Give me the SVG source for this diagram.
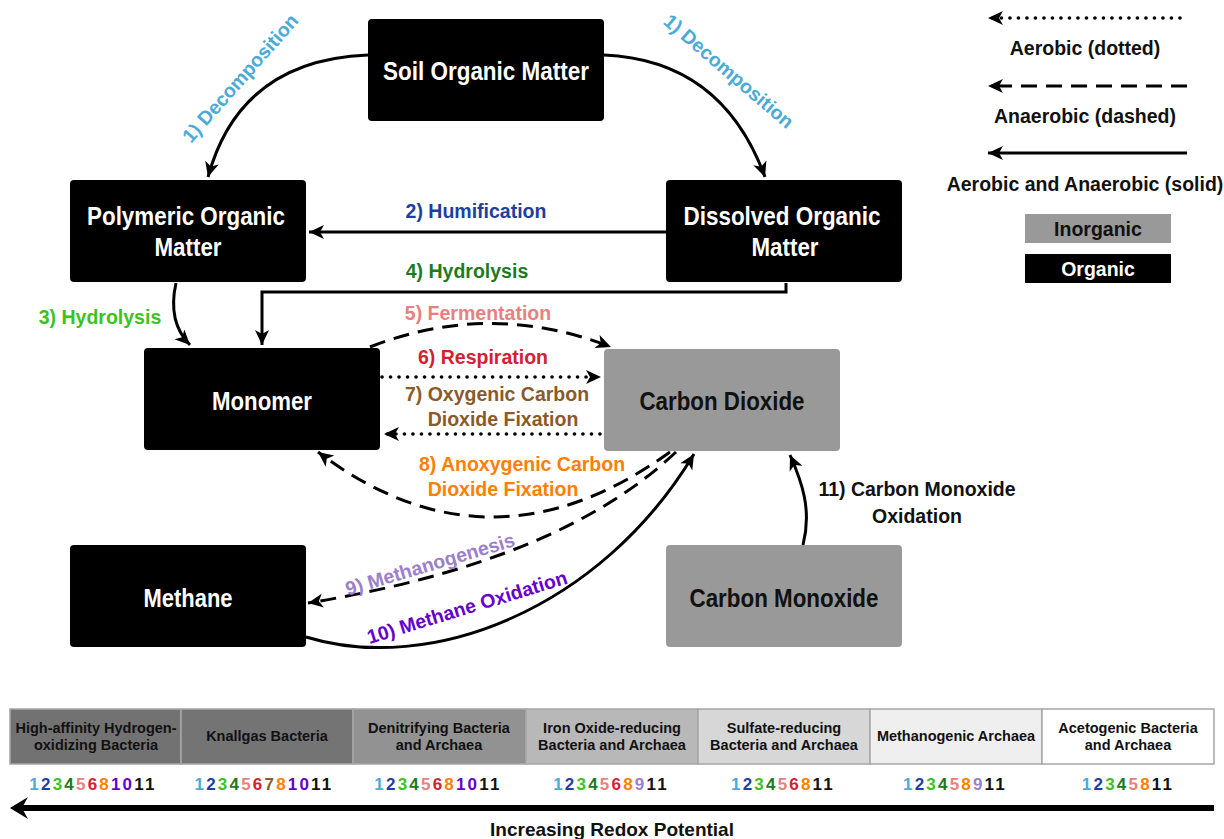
<svg xmlns="http://www.w3.org/2000/svg" width="1224" height="839" viewBox="0 0 1224 839">
<style>
.node{stroke:none}
.org{fill:#000}
.inorg{fill:#999}
.nl{font-family:"Liberation Sans",Arial,sans-serif;font-weight:bold;font-size:26px;text-anchor:middle;dominant-baseline:central}
.w{fill:#fff}
.k{fill:#111}
.lbl{font-family:"Liberation Sans",Arial,sans-serif;font-weight:bold;font-size:19.5px;text-anchor:middle;dominant-baseline:central}
.leg{font-family:"Liberation Sans",Arial,sans-serif;font-weight:bold;font-size:19.5px;text-anchor:middle;dominant-baseline:central;fill:#111}
.cell{font-family:"Liberation Sans",Arial,sans-serif;font-weight:bold;font-size:14.5px;text-anchor:middle;dominant-baseline:central;fill:#111}
.num{font-family:"Liberation Sans",Arial,sans-serif;font-weight:bold;font-size:17px;text-anchor:middle;dominant-baseline:central;letter-spacing:2.2px}
.c1{fill:#4aabd6}.c2{fill:#1f3e9e}.c3{fill:#3cc21e}.c4{fill:#1e7a1e}.c5{fill:#e88080}.c6{fill:#d42030}.c7{fill:#8b5a2b}.c8{fill:#ff8000}.c9{fill:#9b7fcc}.c10{fill:#6600cc}.c11{fill:#111}
.e{fill:none;stroke:#000;stroke-width:3}
.dash{stroke-dasharray:16 9}
.dot{stroke-dasharray:0.1 8.4;stroke-linecap:round;stroke-width:3.6}
.tb{stroke:#a6a6a6;stroke-width:1.5}
</style>
<defs>
<marker id="ah" markerUnits="userSpaceOnUse" markerWidth="16" markerHeight="14" refX="15" refY="7" orient="auto" overflow="visible">
<path d="M0,0 L15,7 L0,14 L4,7 z" fill="#000"/>
</marker>
</defs>

<g id="connectors">
<path class="e" d="M368,55 Q240,60 208,177" marker-end="url(#ah)"/>
<path class="e" d="M604,55 Q722,60 765,177" marker-end="url(#ah)"/>
<path class="e" d="M666,232 L309,232" marker-end="url(#ah)"/>
<path class="e" d="M176,283 C170,310 175,330 190,345" marker-end="url(#ah)"/>
<path class="e" d="M786,283 L786,292 L262,292 L262,345" marker-end="url(#ah)"/>
<path class="e dash" d="M370,347 Q490,300 611,347" marker-end="url(#ah)"/>
<path class="e dot" d="M382,377 L601,377" marker-end="url(#ah)"/>
<path class="e dot" d="M600,434 L384,434" marker-end="url(#ah)"/>
<path class="e dash" d="M670,452 Q490,582 318,452" marker-end="url(#ah)"/>
<path class="e dash" d="M676,452 Q560,562 308,603" marker-end="url(#ah)"/>
<path class="e" d="M306,637 C430,675 600,610 694,454" marker-end="url(#ah)"/>
<path class="e" d="M803,545 C812,510 802,482 790,455" marker-end="url(#ah)"/>

<text class="lbl c1" transform="translate(240,78) rotate(-48.5)">1) Decomposition</text>
<text class="lbl c1" transform="translate(729,71) rotate(40.5)">1) Decomposition</text>
<text class="lbl c2" x="476" y="211">2) Humification</text>
<text class="lbl c3" x="100" y="317">3) Hydrolysis</text>
<text class="lbl c4" x="467" y="271">4) Hydrolysis</text>
<text class="lbl c5" x="478" y="313">5) Fermentation</text>
<text class="lbl c6" x="483" y="357">6) Respiration</text>
<text class="lbl c7" x="497" y="394">7) Oxygenic Carbon</text>
<text class="lbl c7" x="503" y="419">Dioxide Fixation</text>
<text class="lbl c8" x="522" y="464">8) Anoxygenic Carbon</text>
<text class="lbl c8" x="503" y="489">Dioxide Fixation</text>
<text class="lbl c9" transform="translate(430,564) rotate(-16.5)">9) Methanogenesis</text>
<text class="lbl c10" transform="translate(467,607) rotate(-17)">10) Methane Oxidation</text>
<text class="lbl c11" x="917" y="489">11) Carbon Monoxide</text>
<text class="lbl c11" x="917" y="516">Oxidation</text>
</g>

<g id="soil"><rect class="node org" x="368" y="19" width="236" height="102" rx="4"/><text class="nl w" x="486" y="71" textLength="206" lengthAdjust="spacingAndGlyphs">Soil Organic Matter</text></g>
<g id="polymeric"><rect class="node org" x="70" y="180" width="236" height="102" rx="4"/><text class="nl w" x="186" y="216" textLength="198" lengthAdjust="spacingAndGlyphs">Polymeric Organic</text><text class="nl w" x="188" y="247" textLength="67" lengthAdjust="spacingAndGlyphs">Matter</text></g>
<g id="dissolved"><rect class="node org" x="666" y="180" width="236" height="102" rx="4"/><text class="nl w" x="782" y="216" textLength="197" lengthAdjust="spacingAndGlyphs">Dissolved Organic</text><text class="nl w" x="785" y="247" textLength="67" lengthAdjust="spacingAndGlyphs">Matter</text></g>
<g id="monomer"><rect class="node org" x="144" y="348" width="236" height="102" rx="4"/><text class="nl w" x="262" y="401" textLength="100" lengthAdjust="spacingAndGlyphs">Monomer</text></g>
<g id="co2"><rect class="node inorg" x="604" y="349" width="236" height="102" rx="4"/><text class="nl k" x="722" y="401" textLength="165" lengthAdjust="spacingAndGlyphs">Carbon Dioxide</text></g>
<g id="methane"><rect class="node org" x="70" y="545" width="236" height="102" rx="4"/><text class="nl w" x="188" y="598" textLength="89" lengthAdjust="spacingAndGlyphs">Methane</text></g>
<g id="co"><rect class="node inorg" x="666" y="545" width="236" height="102" rx="4"/><text class="nl k" x="784" y="598" textLength="189" lengthAdjust="spacingAndGlyphs">Carbon Monoxide</text></g>

<g id="legend">
<path class="e dot" d="M1180,18 L988,18" marker-end="url(#ah)"/>
<text class="leg" x="1085" y="48">Aerobic (dotted)</text>
<path class="e dash" d="M1187,86 L988,86" marker-end="url(#ah)"/>
<text class="leg" x="1085" y="116">Anaerobic (dashed)</text>
<path class="e" d="M1187,153 L988,153" marker-end="url(#ah)"/>
<text class="leg" x="1085" y="184">Aerobic and Anaerobic (solid)</text>
<rect x="1025" y="214" width="146" height="29" fill="#999"/>
<text class="leg" x="1098" y="229">Inorganic</text>
<rect x="1025" y="254" width="146" height="29" fill="#000"/>
<text class="leg" x="1098" y="269" style="fill:#fff">Organic</text>
</g>

<g id="table">
<rect class="tb" x="10" y="709" width="171" height="55" fill="#727272"/>
<rect class="tb" x="181" y="709" width="172" height="55" fill="#747474"/>
<rect class="tb" x="353" y="709" width="173" height="55" fill="#929292"/>
<rect class="tb" x="526" y="709" width="172" height="55" fill="#b8b8b8"/>
<rect class="tb" x="698" y="709" width="172" height="55" fill="#d7d7d7"/>
<rect class="tb" x="870" y="709" width="172" height="55" fill="#efefef"/>
<rect class="tb" x="1042" y="709" width="172" height="55" fill="#ffffff"/>
<text class="cell" x="96" y="728">High-affinity Hydrogen-</text>
<text class="cell" x="96" y="745">oxidizing Bacteria</text>
<text class="cell" x="267" y="736">Knallgas Bacteria</text>
<text class="cell" x="439" y="728">Denitrifying Bacteria</text>
<text class="cell" x="439" y="745">and Archaea</text>
<text class="cell" x="612" y="728">Iron Oxide-reducing</text>
<text class="cell" x="612" y="745">Bacteria and Archaea</text>
<text class="cell" x="784" y="728">Sulfate-reducing</text>
<text class="cell" x="784" y="745">Bacteria and Archaea</text>
<text class="cell" x="956" y="736">Methanogenic Archaea</text>
<text class="cell" x="1128" y="728">Acetogenic Bacteria</text>
<text class="cell" x="1128" y="745">and Archaea</text>

<text class="num" x="93" y="784"><tspan class="c1">1</tspan><tspan class="c2">2</tspan><tspan class="c3">3</tspan><tspan class="c4">4</tspan><tspan class="c5">5</tspan><tspan class="c6">6</tspan><tspan class="c8">8</tspan><tspan class="c10">10</tspan><tspan class="c11">11</tspan></text>
<text class="num" x="264" y="784"><tspan class="c1">1</tspan><tspan class="c2">2</tspan><tspan class="c3">3</tspan><tspan class="c4">4</tspan><tspan class="c5">5</tspan><tspan class="c6">6</tspan><tspan class="c7">7</tspan><tspan class="c8">8</tspan><tspan class="c10">10</tspan><tspan class="c11">11</tspan></text>
<text class="num" x="438" y="784"><tspan class="c1">1</tspan><tspan class="c2">2</tspan><tspan class="c3">3</tspan><tspan class="c4">4</tspan><tspan class="c5">5</tspan><tspan class="c6">6</tspan><tspan class="c8">8</tspan><tspan class="c10">10</tspan><tspan class="c11">11</tspan></text>
<text class="num" x="611" y="784"><tspan class="c1">1</tspan><tspan class="c2">2</tspan><tspan class="c3">3</tspan><tspan class="c4">4</tspan><tspan class="c5">5</tspan><tspan class="c6">6</tspan><tspan class="c8">8</tspan><tspan class="c9">9</tspan><tspan class="c11">11</tspan></text>
<text class="num" x="783" y="784"><tspan class="c1">1</tspan><tspan class="c2">2</tspan><tspan class="c3">3</tspan><tspan class="c4">4</tspan><tspan class="c5">5</tspan><tspan class="c6">6</tspan><tspan class="c8">8</tspan><tspan class="c11">11</tspan></text>
<text class="num" x="955" y="784"><tspan class="c1">1</tspan><tspan class="c2">2</tspan><tspan class="c3">3</tspan><tspan class="c4">4</tspan><tspan class="c5">5</tspan><tspan class="c8">8</tspan><tspan class="c9">9</tspan><tspan class="c11">11</tspan></text>
<text class="num" x="1128" y="784"><tspan class="c1">1</tspan><tspan class="c2">2</tspan><tspan class="c3">3</tspan><tspan class="c4">4</tspan><tspan class="c5">5</tspan><tspan class="c8">8</tspan><tspan class="c11">11</tspan></text>
</g>

<g id="redox">
<line x1="1214" y1="808" x2="22" y2="808" stroke="#000" stroke-width="6"/>
<path d="M10,808 L28,797 L22,808 L28,819 z" fill="#000"/>
<text class="leg" x="612" y="829" style="font-size:19px">Increasing Redox Potential</text>
</g>
</svg>
